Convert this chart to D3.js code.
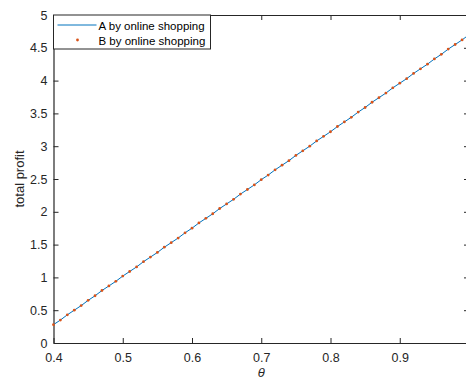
<!DOCTYPE html>
<html>
<head>
<meta charset="utf-8">
<script src="https://cdn.jsdelivr.net/npm/d3@7"></script>
<style>
  body { margin: 0; background: #fff; }
  svg { display: block; font-family: "Liberation Sans", Arial, Helvetica, sans-serif; }
  .tick text { fill: #262626; font-size: 12.5px; }
  .domain, .tick line { stroke: #262626; }
</style>
</head>
<body>
<div id="wrapper"></div>
<script>
// theta values (x axis)
const theta = [0.40, 0.41, 0.42, 0.43, 0.44, 0.45, 0.46, 0.47, 0.48, 0.49,
  0.50, 0.51, 0.52, 0.53, 0.54, 0.55, 0.56, 0.57, 0.58, 0.59,
  0.60, 0.61, 0.62, 0.63, 0.64, 0.65, 0.66, 0.67, 0.68, 0.69,
  0.70, 0.71, 0.72, 0.73, 0.74, 0.75, 0.76, 0.77, 0.78, 0.79,
  0.80, 0.81, 0.82, 0.83, 0.84, 0.85, 0.86, 0.87, 0.88, 0.89,
  0.90, 0.91, 0.92, 0.93, 0.94, 0.95, 0.96, 0.97, 0.98, 0.99, 1.00];

// total profit (A and B overlap)
const profitA = [0.28, 0.35, 0.43, 0.50, 0.57, 0.65, 0.72, 0.80, 0.87, 0.94,
  1.02, 1.09, 1.16, 1.24, 1.31, 1.38, 1.46, 1.53, 1.60, 1.68,
  1.75, 1.83, 1.90, 1.97, 2.05, 2.12, 2.19, 2.27, 2.34, 2.41,
  2.49, 2.56, 2.64, 2.71, 2.78, 2.86, 2.93, 3.00, 3.08, 3.15,
  3.22, 3.30, 3.37, 3.44, 3.52, 3.59, 3.67, 3.74, 3.81, 3.89,
  3.96, 4.03, 4.11, 4.18, 4.25, 4.33, 4.40, 4.48, 4.55, 4.62, 4.70];
const profitB = [0.28, 0.35, 0.43, 0.50, 0.57, 0.65, 0.72, 0.80, 0.87, 0.94,
  1.02, 1.09, 1.16, 1.24, 1.31, 1.38, 1.46, 1.53, 1.60, 1.68,
  1.75, 1.83, 1.90, 1.97, 2.05, 2.12, 2.19, 2.27, 2.34, 2.41,
  2.49, 2.56, 2.64, 2.71, 2.78, 2.86, 2.93, 3.00, 3.08, 3.15,
  3.22, 3.30, 3.37, 3.44, 3.52, 3.59, 3.67, 3.74, 3.81, 3.89,
  3.96, 4.03, 4.11, 4.18, 4.25, 4.33, 4.40, 4.48, 4.55, 4.62, 4.70];

const xTicks = [0.4, 0.5, 0.6, 0.7, 0.8, 0.9];
const yTicks = [0, 0.5, 1, 1.5, 2, 2.5, 3, 3.5, 4, 4.5, 5];
const seriesNames = ["A by online shopping", "B by online shopping"];

function drawChart() {
  const dimensions = {
    width: 466,
    height: 380,
    margins: { top: 15, right: -3, bottom: 37, left: 53.5 },
  };
  dimensions.boundedWidth = dimensions.width - dimensions.margins.left - dimensions.margins.right;
  dimensions.boundedHeight = dimensions.height - dimensions.margins.top - dimensions.margins.bottom;

  const wrapper = d3.select("#wrapper")
    .append("svg")
    .attr("width", dimensions.width)
    .attr("height", dimensions.height);

  const bounds = wrapper.append("g")
    .attr("transform", `translate(${dimensions.margins.left},${dimensions.margins.top})`);

  const xScale = d3.scaleLinear().domain([0.4, 1.0]).range([0, dimensions.boundedWidth]);
  const yScale = d3.scaleLinear().domain([0, 5]).range([dimensions.boundedHeight, 0]);

  // axes, MATLAB style: ticks pointing inward, box on
  const fmt = d3.format("");
  bounds.append("g")
    .attr("transform", `translate(0,${dimensions.boundedHeight})`)
    .call(d3.axisBottom(xScale).tickValues(xTicks).tickFormat(fmt).tickSizeInner(-5).tickSizeOuter(0).tickPadding(10));
  bounds.append("g")
    .call(d3.axisTop(xScale).tickValues(xTicks).tickFormat("").tickSizeInner(-5).tickSizeOuter(0));
  bounds.append("g")
    .call(d3.axisLeft(yScale).tickValues(yTicks).tickFormat(fmt).tickSizeInner(-5).tickSizeOuter(0).tickPadding(6));
  bounds.append("g")
    .attr("transform", `translate(${dimensions.boundedWidth},0)`)
    .call(d3.axisRight(yScale).tickValues(yTicks).tickFormat("").tickSizeInner(-5).tickSizeOuter(0));

  bounds.selectAll(".domain").attr("stroke-width", 1.2);

  // data
  const dataA = theta.map((t, i) => [t, profitA[i]]);
  const dataB = theta.map((t, i) => [t, profitB[i]]);

  const lineGenerator = d3.line()
    .x((d) => xScale(d[0]))
    .y((d) => yScale(d[1]));

  bounds.append("path")
    .attr("d", lineGenerator(dataA))
    .attr("fill", "none")
    .attr("stroke", "#0072BD")
    .attr("stroke-width", 1);

  bounds.selectAll(".dotB")
    .data(dataB)
    .join("circle")
    .attr("class", "dotB")
    .attr("cx", (d) => xScale(d[0]))
    .attr("cy", (d) => yScale(d[1]))
    .attr("r", 1.4)
    .attr("fill", "#D95319");

  // axis labels
  wrapper.append("text")
    .attr("x", dimensions.margins.left + xScale(0.7))
    .attr("y", 377)
    .attr("text-anchor", "middle")
    .style("font-size", "13px")
    .style("font-style", "italic")
    .attr("fill", "#262626")
    .text("θ");

  wrapper.append("text")
    .attr("transform", `translate(24,${dimensions.margins.top + dimensions.boundedHeight / 2}) rotate(-90)`)
    .attr("text-anchor", "middle")
    .style("font-size", "13px")
    .attr("fill", "#262626")
    .text("total profit");

  // legend
  const legend = bounds.append("g");
  legend.append("rect")
    .attr("x", 0)
    .attr("y", 0)
    .attr("width", 157)
    .attr("height", 34)
    .attr("fill", "#fff")
    .attr("stroke", "#262626")
    .attr("stroke-width", 1);

  legend.append("line")
    .attr("x1", 4).attr("x2", 43)
    .attr("y1", 10).attr("y2", 10)
    .attr("stroke", "#0072BD")
    .attr("stroke-width", 1);
  legend.append("circle")
    .attr("cx", 24).attr("cy", 25)
    .attr("r", 1.4)
    .attr("fill", "#D95319");

  legend.selectAll(".legend-label")
    .data(seriesNames)
    .join("text")
    .attr("class", "legend-label")
    .attr("x", 45)
    .attr("y", (d, i) => 14.5 + i * 15)
    .style("font-size", "11.5px")
    .attr("fill", "#000")
    .text((d) => d);
}

drawChart();
</script>
</body>
</html>
